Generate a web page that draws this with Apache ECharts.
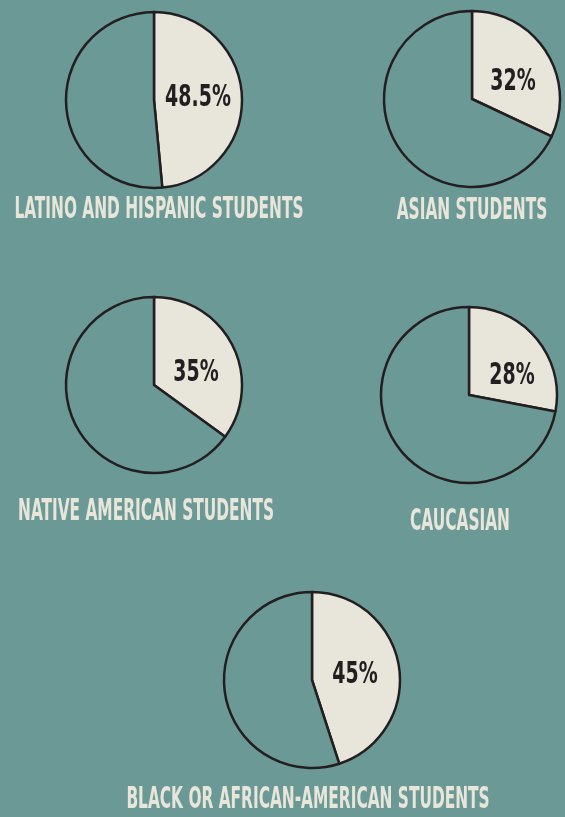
<!DOCTYPE html>
<html>
<head>
<meta charset="utf-8">
<script src="https://cdn.jsdelivr.net/npm/echarts@6/dist/echarts.min.js"></script>
<style>
  html, body { margin: 0; padding: 0; background: #6B9996; }
  #chart { width: 565px; height: 817px; }
</style>
</head>
<body>
<div id="chart"></div>
<script>
const groups = [
  'LATINO AND HISPANIC STUDENTS',
  'ASIAN STUDENTS',
  'NATIVE AMERICAN STUDENTS',
  'CAUCASIAN',
  'BLACK OR AFRICAN-AMERICAN STUDENTS'
]
const shares = [48.5, 32, 35, 28, 45]

// layout of each pie: center, percent label spot, caption spot
const layout = [
  { center: [154, 100], pct: [198, 98], caption: [159, 210] },
  { center: [472, 99], pct: [513, 82], caption: [472, 211] },
  { center: [154, 385], pct: [196, 373], caption: [146, 512] },
  { center: [469, 395], pct: [512, 376], caption: [460, 522] },
  { center: [312, 680], pct: [355, 675], caption: [308, 800] }
]

const BG = '#6B9996'
const LIGHT = '#E8E6DB'
const DARK = '#231F20'
const CONDENSED = '"DejaVu Sans Condensed", "DejaVu Sans", sans-serif'

const chart = echarts.init(document.getElementById('chart'))

const captions = groups.map((name, i) => ({
  type: 'text',
  x: layout[i].caption[0],
  y: layout[i].caption[1],
  scaleX: 0.57,
  silent: true,
  style: {
    text: name,
    fill: LIGHT,
    font: 'bold 30px ' + CONDENSED,
    align: 'center',
    verticalAlign: 'middle'
  }
}))

// percent labels, squeezed horizontally like the poster typeface
const percents = shares.map((v, i) => ({
  type: 'text',
  x: layout[i].pct[0],
  y: layout[i].pct[1],
  scaleX: 0.68,
  silent: true,
  z: 10,
  style: {
    text: v + '%',
    fill: DARK,
    font: 'bold 31px ' + CONDENSED,
    align: 'center',
    verticalAlign: 'middle'
  }
}))

chart.setOption({
  backgroundColor: BG,
  animation: false,
  series: groups.map((name, i) => ({
    name: name,
    type: 'pie',
    center: layout[i].center,
    radius: 88,
    startAngle: 90,
    clockwise: true,
    silent: true,
    emphasis: { disabled: true },
    itemStyle: {
      borderColor: DARK,
      borderWidth: 2.5
    },
    label: { show: false },
    labelLine: { show: false },
    data: [
      { name: 'share', value: shares[i], itemStyle: { color: LIGHT } },
      { name: 'rest', value: 100 - shares[i], itemStyle: { color: BG } }
    ]
  })),
  graphic: captions.concat(percents)
})
</script>
</body>
</html>
